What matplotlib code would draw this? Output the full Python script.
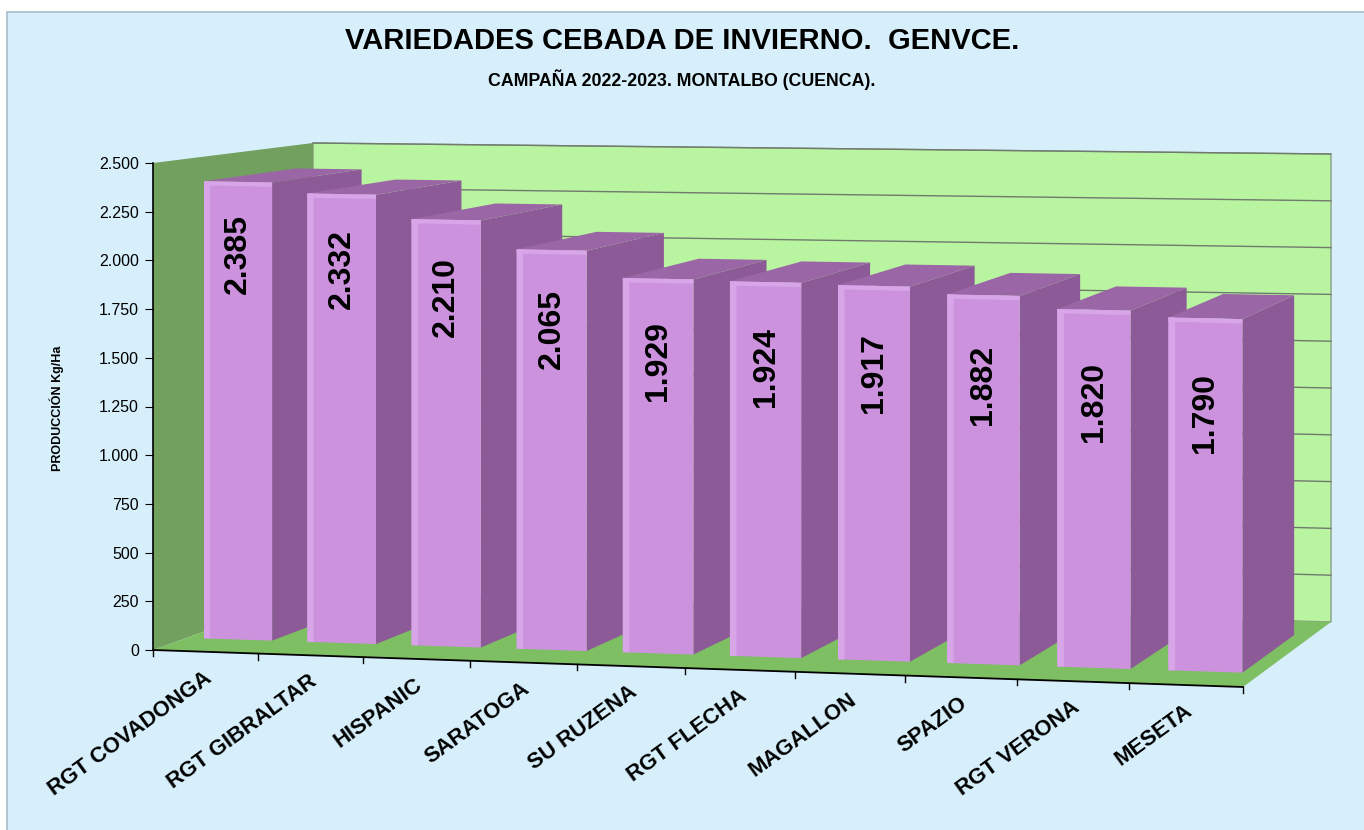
import matplotlib.pyplot as plt
from matplotlib import font_manager
from matplotlib.patches import Polygon, Rectangle
from matplotlib.ticker import FuncFormatter

# datos
variedades = ["RGT COVADONGA", "RGT GIBRALTAR", "HISPANIC", "SARATOGA", "SU RUZENA",
              "RGT FLECHA", "MAGALLON", "SPAZIO", "RGT VERONA", "MESETA"]
produccion = [2385, 2332, 2210, 2065, 1929, 1924, 1917, 1882, 1820, 1790]
y_ticks = list(range(0, 2501, 250))

titulo = "VARIEDADES CEBADA DE INVIERNO.  GENVCE."
subtitulo = "CAMPAÑA 2022-2023. MONTALBO (CUENCA)."
etiqueta_y = "PRODUCCIÓN Kg/Ha"

plt.rcParams['font.family'] = ['Liberation Sans', 'DejaVu Sans']

# fuente estrecha para el titulo si esta instalada
try:
    font_manager.findfont(font_manager.FontProperties(family='Liberation Sans Narrow',
                                                      weight='bold'),
                          fallback_to_default=False)
    FUENTE_TIT, ESCALA_TIT = ['Liberation Sans Narrow', 'Liberation Sans'], 1 / 0.82
except ValueError:
    FUENTE_TIT, ESCALA_TIT = ['Liberation Sans', 'DejaVu Sans'], 1.0

W, H = 1364, 830
VMAX = 2500
NCAT = len(variedades)

# "camara": posicion en pantalla de las 8 esquinas de la caja 3D
# clave (profundidad, lado, nivel) -> (x, y) con y hacia abajo
CAJA = {
    (0, 0, 0): (153, 650), (0, 0, 1): (153, 163),
    (0, 1, 0): (1243, 687), (0, 1, 1): (1243, 186),
    (1, 0, 0): (313, 592), (1, 0, 1): (313, 143),
    (1, 1, 0): (1331, 622), (1, 1, 1): (1331, 154),
}
WARP = 0.045          # perspectiva a lo largo de las categorias
D0, D1 = 0.21, 0.79   # profundidad de las barras
BW = 0.66             # ancho de barra (en categorias)


def fmt_miles(v):
    return f"{int(v):,}".replace(",", ".")


def proyectar(c, v, d):
    u = c / NCAT
    u = u * (1 - WARP) / (1 - WARP * u)
    t = v / VMAX
    x = y = 0.0
    for dd in (0, 1):
        for ss in (0, 1):
            for ll in (0, 1):
                w = (d if dd else 1 - d) * (u if ss else 1 - u) * (t if ll else 1 - t)
                px, py = CAJA[(dd, ss, ll)]
                x += w * px
                y += w * py
    return x, y


def cara(ax, puntos, color, z, ec='none', lw=0):
    ax.add_patch(Polygon([proyectar(*p) for p in puntos], closed=True,
                         facecolor=color, edgecolor=ec, linewidth=lw, zorder=z))


fig = plt.figure(figsize=(W / 100, H / 100), dpi=100)
fig.patch.set_facecolor('white')
ax = fig.add_axes([0, 0, 1, 1])
ax.set_xlim(0, W)
ax.set_ylim(H, 0)
ax.axis('off')

# fondo del grafico
ax.add_patch(Rectangle((7, 12), W, H, facecolor='#D6EFFB', edgecolor='#A9BCC8',
                       linewidth=1.2, zorder=0))

# paredes y suelo
cara(ax, [(0, 0, 1), (0, VMAX, 1), (NCAT, VMAX, 1), (NCAT, 0, 1)], '#B9F4A0', 1,
     ec='#8C9C88', lw=1)
cara(ax, [(0, 0, 0), (0, VMAX, 0), (0, VMAX, 1), (0, 0, 1)], '#72A05E', 1)
cara(ax, [(0, 0, 0), (NCAT, 0, 0), (NCAT, 0, 1), (0, 0, 1)], '#7EBF63', 2)

# lineas de division en la pared del fondo
for v in y_ticks[1:]:
    (x0, y0), (x1, y1) = proyectar(0, v, 1), proyectar(NCAT, v, 1)
    ax.plot([x0, x1], [y0, y1], color='#6F7B6C', lw=1, zorder=1.5)

# barras
for i, v in enumerate(produccion):
    z = 3 + i
    c0, c1 = i + 0.5 - BW / 2, i + 0.5 + BW / 2
    cara(ax, [(c1, 0, D0), (c1, v, D0), (c1, v, D1), (c1, 0, D1)], '#8C5B97', z)
    cara(ax, [(c0, v, D0), (c0, v, D1), (c1, v, D1), (c1, v, D0)], '#9A66A6', z)
    cara(ax, [(c0, 0, D0), (c0, v, D0), (c1, v, D0), (c1, 0, D0)], '#CC92DE', z)
    # brillo en los bordes izquierdo y superior
    cara(ax, [(c0, 0, D0), (c0, v, D0), (c0 + 0.06, v, D0), (c0 + 0.06, 0, D0)],
         '#D8A5E8', z)
    cara(ax, [(c0, v - 22, D0), (c0, v, D0), (c1, v, D0), (c1, v - 22, D0)],
         '#D8A5E8', z)
    xt, yt = proyectar(i + 0.5, v, D0)
    ax.text(xt, yt + 72 + 2.5 * i, fmt_miles(v), rotation=90, ha='center',
            va='center', fontsize=23, fontweight='bold', zorder=20)

# eje de categorias (linea frontal inclinada)
(x0, y0), (x1, y1) = proyectar(0, 0, 0), proyectar(NCAT, 0, 0)
ax.plot([x0, x1], [y0, y1], color='black', lw=1.3, zorder=15)
for k in range(NCAT + 1):
    xk, yk = proyectar(k, 0, 0)
    ax.plot([xk, xk], [yk, yk + 6], color='black', lw=1, zorder=15)
for i, nombre in enumerate(variedades):
    xc, yc = proyectar(i + 0.5, 0, 0)
    ax.text(xc + 4, yc + 24, nombre, rotation=36, rotation_mode='anchor',
            ha='right', va='center', fontsize=15.8, fontweight='bold', zorder=20)

# eje de valores (arista frontal izquierda, vertical y lineal)
xb, yb = proyectar(0, 0, 0)
_, ytop = proyectar(0, VMAX, 0)
ax_y = fig.add_axes([xb / W, 1 - yb / H, 0.0001, (yb - ytop) / H])
ax_y.set_ylim(0, VMAX)
ax_y.set_yticks(y_ticks)
ax_y.yaxis.set_major_formatter(FuncFormatter(lambda v, p: fmt_miles(v)))
ax_y.set_xticks([])
ax_y.patch.set_visible(False)
for s in ('top', 'right', 'bottom'):
    ax_y.spines[s].set_visible(False)
ax_y.spines['left'].set_linewidth(1.2)
ax_y.tick_params(axis='y', length=6, labelsize=11.5, pad=4)

fig.text(57 / W, 1 - 408 / H, etiqueta_y, rotation=90, ha='center', va='center',
         fontsize=9, fontweight='bold')

fig.text(0.5, 1 - 41 / H, titulo, ha='center', va='center', family=FUENTE_TIT,
         fontsize=21 * ESCALA_TIT, fontweight='bold')
fig.text(0.5, 1 - 80 / H, subtitulo, ha='center', va='center', family=FUENTE_TIT,
         fontsize=12.8 * ESCALA_TIT, fontweight='bold')

fig.savefig('out.png', dpi=100)
